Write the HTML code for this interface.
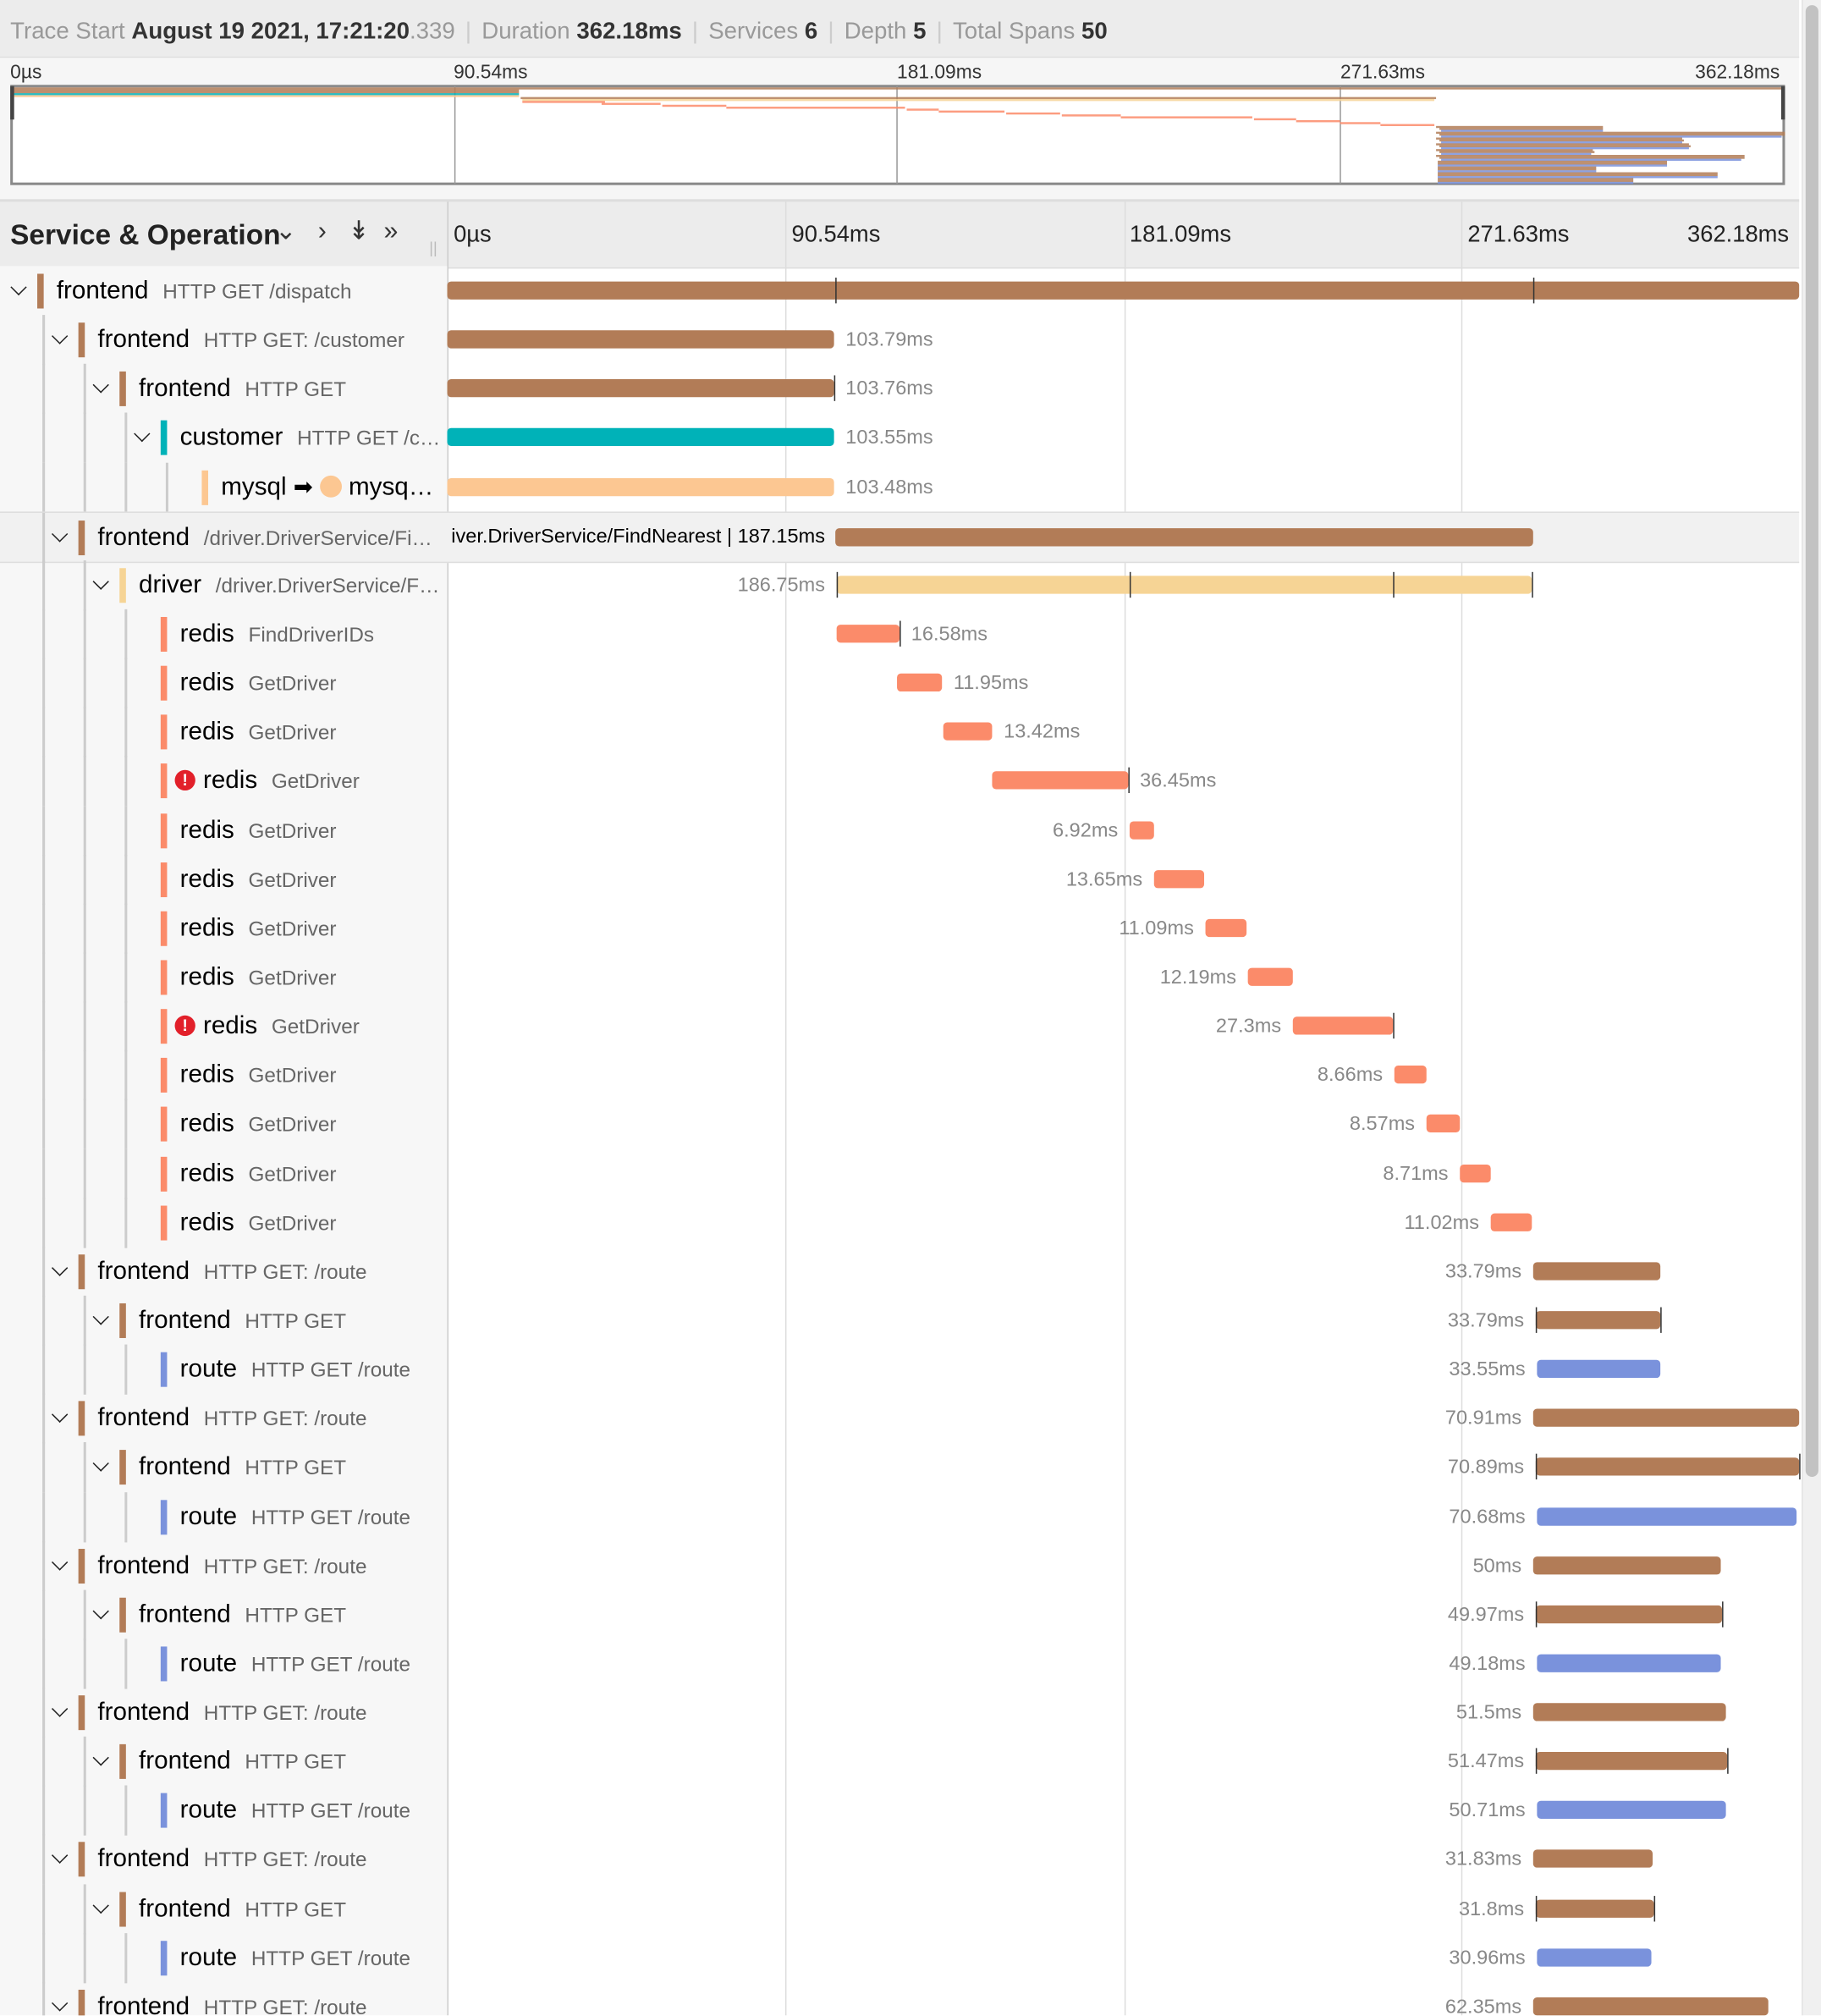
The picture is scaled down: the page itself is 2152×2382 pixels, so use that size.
<!DOCTYPE html>
<html><head><meta charset="utf-8">
<style>
html,body{margin:0;padding:0;background:#fff;overflow:hidden}
body{width:2152px;height:2382px;position:relative}
#w{position:absolute;left:0;top:0;width:1417px;height:1568px;transform:scale(1.5187);transform-origin:0 0;font-family:"Liberation Sans",Arial,sans-serif;overflow:hidden;background:#fff}
.a{position:absolute;white-space:nowrap}
.hdr{left:0;top:0;width:1400px;height:44px;background:#ececec;border-bottom:1px solid #ddd}
.sep{color:#ccc;margin:0 8px}
.row{position:absolute;left:0;width:1400px;height:38px}
.svc{font-size:19.5px;color:#000}
.op{font-size:16px;color:#666}
.bar{position:absolute;height:14px;border-radius:3px}
.lbl{position:absolute;font-size:15.5px;color:#888;top:11px}
.chev{position:absolute;width:8px;height:8px;border-right:1.6px solid #222;border-bottom:1.6px solid #222;transform:rotate(45deg)}
.cbar{position:absolute;width:5px;height:27px;top:6px}
.vl{position:absolute;width:1.5px;background:#ccc}
.tick{position:absolute;width:1px;height:20px;background:#333;top:9px}
.err{position:absolute;width:16px;height:16px;border-radius:50%;background:#e2202a;color:#fff;font-size:13px;font-weight:bold;text-align:center;line-height:16px;top:11px}
</style></head><body><div id="w">
<div class="a hdr"></div>
<div class="a" style="left:8px;top:14px;font-size:18.2px;color:#999">Trace Start <b style="color:#333">August 19 2021, 17:21:20</b>.339<span class="sep">|</span>Duration <b style="color:#333">362.18ms</b><span class="sep">|</span>Services <b style="color:#333">6</b><span class="sep">|</span>Depth <b style="color:#333">5</b><span class="sep">|</span>Total Spans <b style="color:#333">50</b></div>
<div class="a" style="left:0;top:45px;width:1400px;height:110px;background:#f6f6f6"></div>
<div class="a" style="left:8px;top:48px;font-size:15px;color:#333">0µs</div>
<div class="a" style="left:353px;top:48px;font-size:15px;color:#333">90.54ms</div>
<div class="a" style="left:698px;top:48px;font-size:15px;color:#333">181.09ms</div>
<div class="a" style="left:1043px;top:48px;font-size:15px;color:#333">271.63ms</div>
<div class="a" style="left:1319px;top:48px;font-size:15px;color:#333">362.18ms</div>
<svg class="a" id="mm" style="left:0;top:0" width="1417" height="160"></svg>
<div class="a" style="left:0;top:155px;width:1400px;height:51px;background:#ececec;border-top:2px solid #ddd;border-bottom:1px solid #ddd"></div>
<div class="a" style="left:8px;top:170px;font-size:22px;font-weight:bold;color:#222">Service &amp; Operation</div>
<div class="a" style="left:214px;top:167px;font-size:20px;color:#333">&#8964;&nbsp;&nbsp; &#8250;&nbsp;&nbsp; &#8609;&nbsp; &#187;</div>
<div class="a" style="left:334px;top:186px;font-size:12px;color:#bbb">||</div>
<div class="a" style="left:353px;top:172px;font-size:18px;color:#222">0µs</div>
<div class="a" style="left:616px;top:172px;font-size:18px;color:#222">90.54ms</div>
<div class="a" style="left:879px;top:172px;font-size:18px;color:#222">181.09ms</div>
<div class="a" style="left:1142px;top:172px;font-size:18px;color:#222">271.63ms</div>
<div class="a" style="left:1313px;top:172px;font-size:18px;color:#222">362.18ms</div>
<div class="a" style="left:0;top:207px;width:348px;height:1361px;background:#f7f7f7"></div>
<div class="a" style="left:348px;top:157px;width:1px;height:1411px;background:#ccc"></div>
<div class="a" style="left:611px;top:157px;width:1px;height:1411px;background:#ddd"></div>
<div class="a" style="left:875px;top:157px;width:1px;height:1411px;background:#ddd"></div>
<div class="a" style="left:1137px;top:157px;width:1px;height:1411px;background:#ddd"></div>
<div id="rows"></div>
<div class="a" style="left:1402px;top:0;width:15px;height:1568px;background:#f0f0f0;border-left:1px solid #e3e3e3"></div>
<div class="a" style="left:1405px;top:4px;width:10px;height:1145px;background:#c2c2c2;border-radius:5px"></div>
</div>
<script>
var C={fe:'#b27c57',cu:'#00b2b8',my:'#fcc792',dr:'#f6d495',re:'#fb8b6a',ro:'#7a92dc'};
var R=[
[0,'frontend','HTTP GET /dispatch','fe',348,1400,'','r',0,[650,1193]],
[1,'frontend','HTTP GET: /customer','fe',348,649,'103.79ms','r'],
[2,'frontend','HTTP GET','fe',348,649,'103.76ms','r',0,[649]],
[3,'customer','HTTP GET /c…','cu',348,649,'103.55ms','r'],
[4,'mysql','','my',348,649,'103.48ms','r',0,0,1],
[1,'frontend','/driver.DriverService/Fi…','fe',650,1193,'','hl'],
[2,'driver','/driver.DriverService/F…','dr',651,1192,'186.75ms','l',0,[651,879,1084,1192]],
[3,'redis','FindDriverIDs','re',651,700,'16.58ms','r',0,[700],1],
[3,'redis','GetDriver','re',698,733,'11.95ms','r',0,0,1],
[3,'redis','GetDriver','re',734,772,'13.42ms','r',0,0,1],
[3,'redis','GetDriver','re',772,878,'36.45ms','r',1,[878],1],
[3,'redis','GetDriver','re',879,898,'6.92ms','l',0,0,1],
[3,'redis','GetDriver','re',898,937,'13.65ms','l',0,0,1],
[3,'redis','GetDriver','re',938,970,'11.09ms','l',0,0,1],
[3,'redis','GetDriver','re',971,1006,'12.19ms','l',0,0,1],
[3,'redis','GetDriver','re',1006,1084,'27.3ms','l',1,[1084],1],
[3,'redis','GetDriver','re',1085,1110,'8.66ms','l',0,0,1],
[3,'redis','GetDriver','re',1110,1136,'8.57ms','l',0,0,1],
[3,'redis','GetDriver','re',1136,1160,'8.71ms','l',0,0,1],
[3,'redis','GetDriver','re',1160,1192,'11.02ms','l',0,0,1]];
var G=[[1292,1292,1292,'33.79ms','33.79ms','33.55ms'],[1400,1400,1398,'70.91ms','70.89ms','70.68ms'],[1339,1340,1339,'50ms','49.97ms','49.18ms'],[1343,1344,1343,'51.5ms','51.47ms','50.71ms'],[1286,1287,1285,'31.83ms','31.8ms','30.96ms'],[1376,1376,1374,'62.35ms','62.3ms','61.9ms']];
G.forEach(function(g){R.push([1,'frontend','HTTP GET: /route','fe',1193,g[0],g[3],'l']);R.push([2,'frontend','HTTP GET','fe',1195,g[1],g[4],'l',0,[1195,g[1]]]);R.push([3,'route','HTTP GET /route','ro',1196,g[2],g[5],'l',0,0,1]);});
var h='',RH=38.14,T=207;
R.forEach(function(r,i){
 var y=T+i*RH,d=r[0];
 if(y>1570)return;
 h+='<div class="row" style="top:'+y+'px;'+(r[7]=='hl'?'background:#f1f1f1;border-top:1px solid #ddd;border-bottom:1px solid #ddd;':'')+'">';
 for(var k=0;k<d;k++)h+='<div class="vl" style="left:'+(33+k*32)+'px;top:0;height:39px"></div>';
 if(!r[10])h+='<div class="chev" style="left:'+(10+d*32)+'px;top:12px"></div>';
 var bx=29+d*32;
 h+='<div class="cbar" style="left:'+bx+'px;background:'+C[r[3]]+'"></div>';
 var tx=bx+15;
 if(r[8]){h+='<div class="err" style="left:'+(tx-4)+'px">!</div>';tx+=18;}
 if(r[1]=='mysql'){h+='<div class="a svc" style="left:'+tx+'px;top:8px">mysql <span style="font-size:18px">&#10145;</span> <span style="display:inline-block;width:17px;height:17px;border-radius:50%;background:#fcc792;vertical-align:-2px"></span> mysq…</div>';}
 else h+='<div class="a" style="left:'+tx+'px;top:8px;width:'+(344-tx)+'px;overflow:hidden;text-overflow:ellipsis"><span class="svc">'+r[1]+'</span><span class="op" style="margin-left:11px">'+r[2]+'</span></div>';
 h+='<div class="bar" style="left:'+r[4]+'px;width:'+(r[5]-r[4])+'px;top:12px;background:'+C[r[3]]+'"></div>';
 if(r[9])r[9].forEach(function(t){h+='<div class="tick" style="left:'+t+'px"></div>';});
 if(r[7]=='r'&&r[6])h+='<div class="lbl" style="left:'+(r[5]+9)+'px">'+r[6]+'</div>';
 if(r[7]=='l')h+='<div class="lbl" style="right:'+(1400-r[4]+9)+'px">'+r[6]+'</div>';
 if(r[7]=='hl')h+='<div class="lbl" style="left:348px;width:294px;overflow:hidden;direction:rtl;color:#000;text-align:right;top:10px">iver.DriverService/FindNearest | 187.15ms</div>';
 h+='</div>';
});
document.getElementById('rows').innerHTML=h;
var m='<rect x="9" y="67" width="1379" height="76" fill="#fff" stroke="#8a8a8a" stroke-width="2"/>';
[354,698,1043].forEach(function(x){m+='<line x1="'+x+'" y1="67" x2="'+x+'" y2="143" stroke="#999"/>'});
var ms=1380/1052;
R.forEach(function(r,i){
 var y=68+i*1.5;var x1=9+(r[4]-348)*ms,x2=9+(r[5]-348)*ms;
 m+='<rect x="'+x1+'" y="'+y+'" width="'+(x2-x1)+'" height="1.6" fill="'+C[r[3]]+'" opacity="0.85"/>';
});
var ex=[1330,1288,1360,1310];
for(var j=0;j<4;j++){for(var k=0;k<3;k++){var i=R.length+j*3+k;var y=68+i*1.5;var x1=9+(1194-348)*ms;var x2=9+(ex[j]-348)*ms;
 m+='<rect x="'+x1+'" y="'+y+'" width="'+(x2-x1)+'" height="1.6" fill="'+(k==2?C.ro:C.fe)+'" opacity="0.85"/>';}}
m+='<rect x="8" y="67" width="3" height="26" fill="#444"/><rect x="1386" y="67" width="3" height="26" fill="#444"/>';
document.getElementById('mm').innerHTML=m;
</script>
</body></html>
